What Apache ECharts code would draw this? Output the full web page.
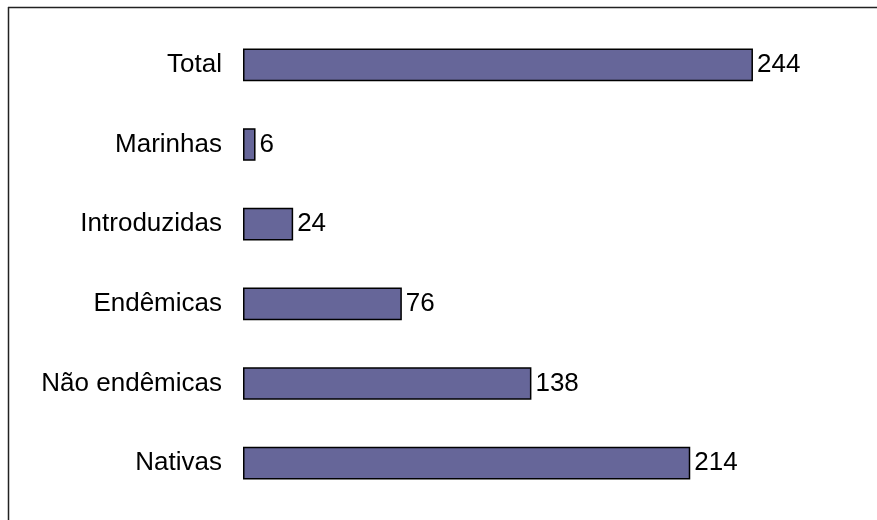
<!DOCTYPE html>
<html>
<head>
<meta charset="utf-8">
<script src="https://cdn.jsdelivr.net/npm/echarts@6/dist/echarts.min.js"></script>
<style>
html,body{margin:0;padding:0;background:#fff;}
#chart{width:877px;height:520px;}
</style>
</head>
<body>
<div id="chart"></div>
<script>
const categories = ['Total', 'Marinhas', 'Introduzidas', 'Endêmicas', 'Não endêmicas', 'Nativas'];
const values = [244, 6, 24, 76, 138, 214];

const chart = echarts.init(document.getElementById('chart'), null, {renderer: 'canvas'});
const font = '"Liberation Sans", Arial, sans-serif';
chart.setOption({
  animation: false,
  backgroundColor: '#ffffff',
  grid: {left: 243, top: 25, width: 627, height: 478, containLabel: false},
  xAxis: {
    type: 'value', min: 0, max: 300,
    show: false
  },
  yAxis: {
    type: 'category', data: categories, inverse: true,
    axisLine: {show: false}, axisTick: {show: false}, splitLine: {show: false},
    axisLabel: {margin: 21, color: '#000', fontSize: 26, fontFamily: font}
  },
  series: [{
    type: 'bar', data: values, barWidth: '41%',
    itemStyle: {color: '#666699', borderColor: '#000', borderWidth: 1.5},
    label: {show: true, position: 'right', distance: 4, color: '#000', fontSize: 26, fontFamily: font}
  }],
  graphic: [
    {type: 'line', shape: {x1: 8, y1: 7.5, x2: 877, y2: 7.5}, style: {stroke: '#222', lineWidth: 1.5}, silent: true},
    {type: 'line', shape: {x1: 8.5, y1: 7, x2: 8.5, y2: 520}, style: {stroke: '#222', lineWidth: 1.5}, silent: true}
  ]
});
</script>
</body>
</html>
